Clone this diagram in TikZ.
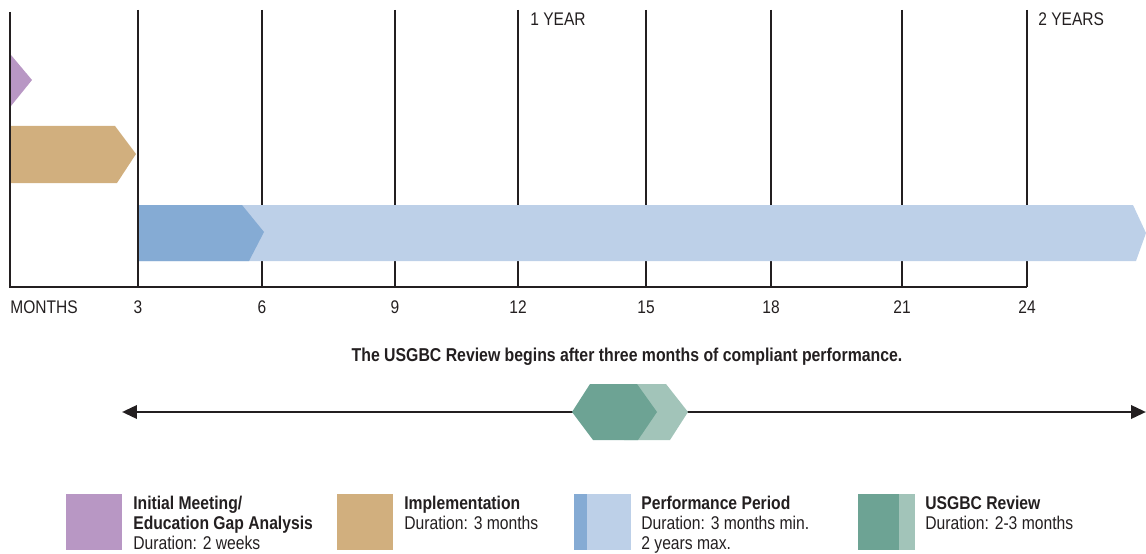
\documentclass[tikz,border=0pt]{standalone}
\usepackage{fontspec}
\setmainfont{Liberation Sans}[FakeStretch=0.85]
\usetikzlibrary{arrows.meta}

\definecolor{ink}{HTML}{231F20}
\definecolor{lilac}{HTML}{B897C4}
\definecolor{sand}{HTML}{D1AF7E}
\definecolor{perfdark}{HTML}{85ABD4}
\definecolor{perflight}{HTML}{BDD0E8}
\definecolor{revdark}{HTML}{6DA394}
\definecolor{revlight}{HTML}{A2C4B9}

\tikzset{
  gridline/.style={draw=ink, line width=1.1pt},
  ticklabel/.style={font=\fontsize{10.4}{12}\selectfont, text=ink, inner sep=0pt, anchor=base},
  legtext/.style={font=\fontsize{10.5}{11.2}\selectfont, text=ink, align=left, anchor=north west, inner sep=0pt},
}

\begin{document}
\begin{tikzpicture}[x=0.02cm, y=-0.02cm]
\useasboundingbox (0,0) rectangle (1146,554);

\draw[gridline] (10,12) -- (10,287) -- (1027,287);
\foreach \xx in {138,262,395,518,646,771,902,1027}
  \draw[gridline] (\xx,10) -- (\xx,287);

\node[ticklabel, anchor=base west] (months) at (10,313) {MONTHS};
\foreach \m/\xx in {3/138,6/262,9/395,12/518,15/646,18/771,21/902,24/1027}
  \node[ticklabel] (m\m) at (\xx,313) {\m};
\node[ticklabel, anchor=base west] (year1) at (530,26) {1 YEAR};
\node[ticklabel, anchor=base west] (year2) at (1038,26) {2 YEARS};

\fill[lilac] (11,55) -- (32,80) -- (11,106) -- cycle;
\fill[sand] (11,126) -- (115,126) -- (136,154) -- (117,183) -- (11,183) -- cycle;
\fill[perflight] (139,205) -- (1133,205) -- (1146,233) -- (1136,261) -- (139,261) -- cycle;
\fill[perfdark] (139,205) -- (242,205) -- (264,232) -- (249,261) -- (139,261) -- cycle;

\node[font=\bfseries\fontsize{10.6}{12}\selectfont, text=ink] (note) at (627,357)
  {The USGBC Review begins after three months of compliant performance.};

\coordinate (revL) at (122,412);
\coordinate (revR) at (1146,412);
\draw[ink, line width=1.6pt, {Triangle[length=8.5pt,width=7.5pt]}-{Triangle[length=8.5pt,width=7.5pt]}] (revL) -- (revR);
\fill[revlight] (603,412) -- (621,384) -- (666,384) -- (688,412) -- (670,440) -- (624,440) -- cycle;
\fill[revdark] (572,412) -- (590,384) -- (637,384) -- (657,412) -- (638,440) -- (593,440) -- cycle;

\fill[lilac] (66,494) rectangle (122,550);
\node[legtext] (leg1) at (133,496) {\textbf{Initial Meeting/}\\\textbf{Education Gap Analysis}\\Duration: 2 weeks};
\fill[sand] (337,494) rectangle (393,550);
\node[legtext] (leg2) at (404,496) {\textbf{Implementation}\\Duration: 3 months};
\fill[perfdark] (574,494) rectangle (587,550);
\fill[perflight] (587,494) rectangle (631,550);
\node[legtext] (leg3) at (641,496) {\textbf{Performance Period}\\Duration: 3 months min.\\2 years max.};
\fill[revdark] (858,494) rectangle (899,550);
\fill[revlight] (899,494) rectangle (915,550);
\node[legtext] (leg4) at (925,496) {\textbf{USGBC Review}\\Duration: 2-3 months};
\end{tikzpicture}
\end{document}
